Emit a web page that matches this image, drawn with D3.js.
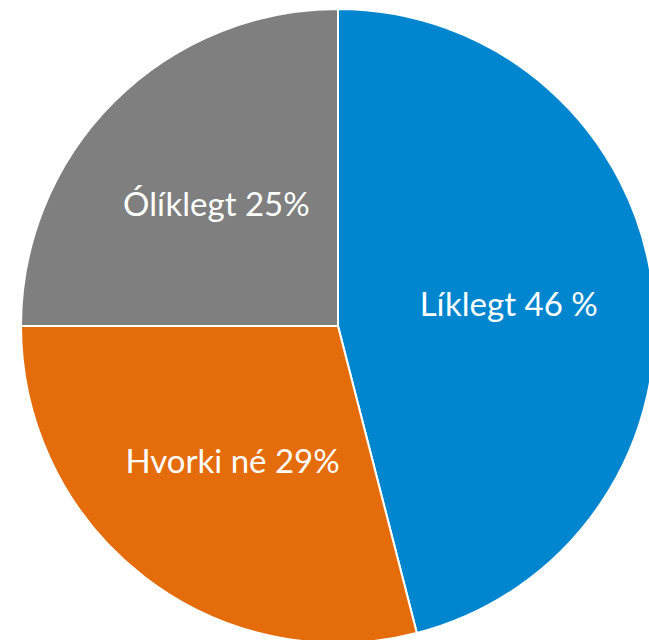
<!DOCTYPE html>
<html>
<head>
<meta charset="utf-8">
<script src="https://cdn.jsdelivr.net/npm/d3@7/dist/d3.min.js"></script>
<style>
  body { margin: 0; background: #fff; }
  svg { display: block; }
</style>
</head>
<body>
<svg id="chart" width="649" height="640"></svg>
<script>
// Data
const categories = ['Líklegt', 'Hvorki né', 'Ólíklegt'];
const values = [46, 29, 25];
const labels = ['Líklegt 46 %', 'Hvorki né 29%', 'Ólíklegt 25%'];
const colors = ['#0085CF', '#E46C0A', '#7F7F7F'];

// Visual config
const cx = 338, cy = 326, radius = 317, labelRadius = 172;

const svg = d3.select('#chart');
const g = svg.append('g').attr('transform', 'translate(' + cx + ',' + cy + ')');

const pie = d3.pie().sort(null).value(d => d.value);
const arcs = pie(categories.map((c, i) => ({ name: c, value: values[i], label: labels[i], color: colors[i] })));

const arc = d3.arc().innerRadius(0).outerRadius(radius);
const labelArc = d3.arc().innerRadius(labelRadius).outerRadius(labelRadius);

g.selectAll('path.slice').data(arcs).enter().append('path')
    .attr('class', 'slice')
    .attr('d', arc)
    .attr('fill', d => d.data.color)
    .attr('stroke', '#fff')
    .attr('stroke-width', 2);

g.selectAll('text.label').data(arcs).enter().append('text')
    .attr('class', 'label')
    .attr('transform', d => 'translate(' + labelArc.centroid(d) + ')')
    .attr('text-anchor', 'middle')
    .attr('dy', '0.35em')
    .attr('fill', '#fff')
    .style('font-family', 'Lato, "Open Sans", sans-serif')
    .style('font-size', '33px')
    .text(d => d.data.label);
</script>
</body>
</html>
